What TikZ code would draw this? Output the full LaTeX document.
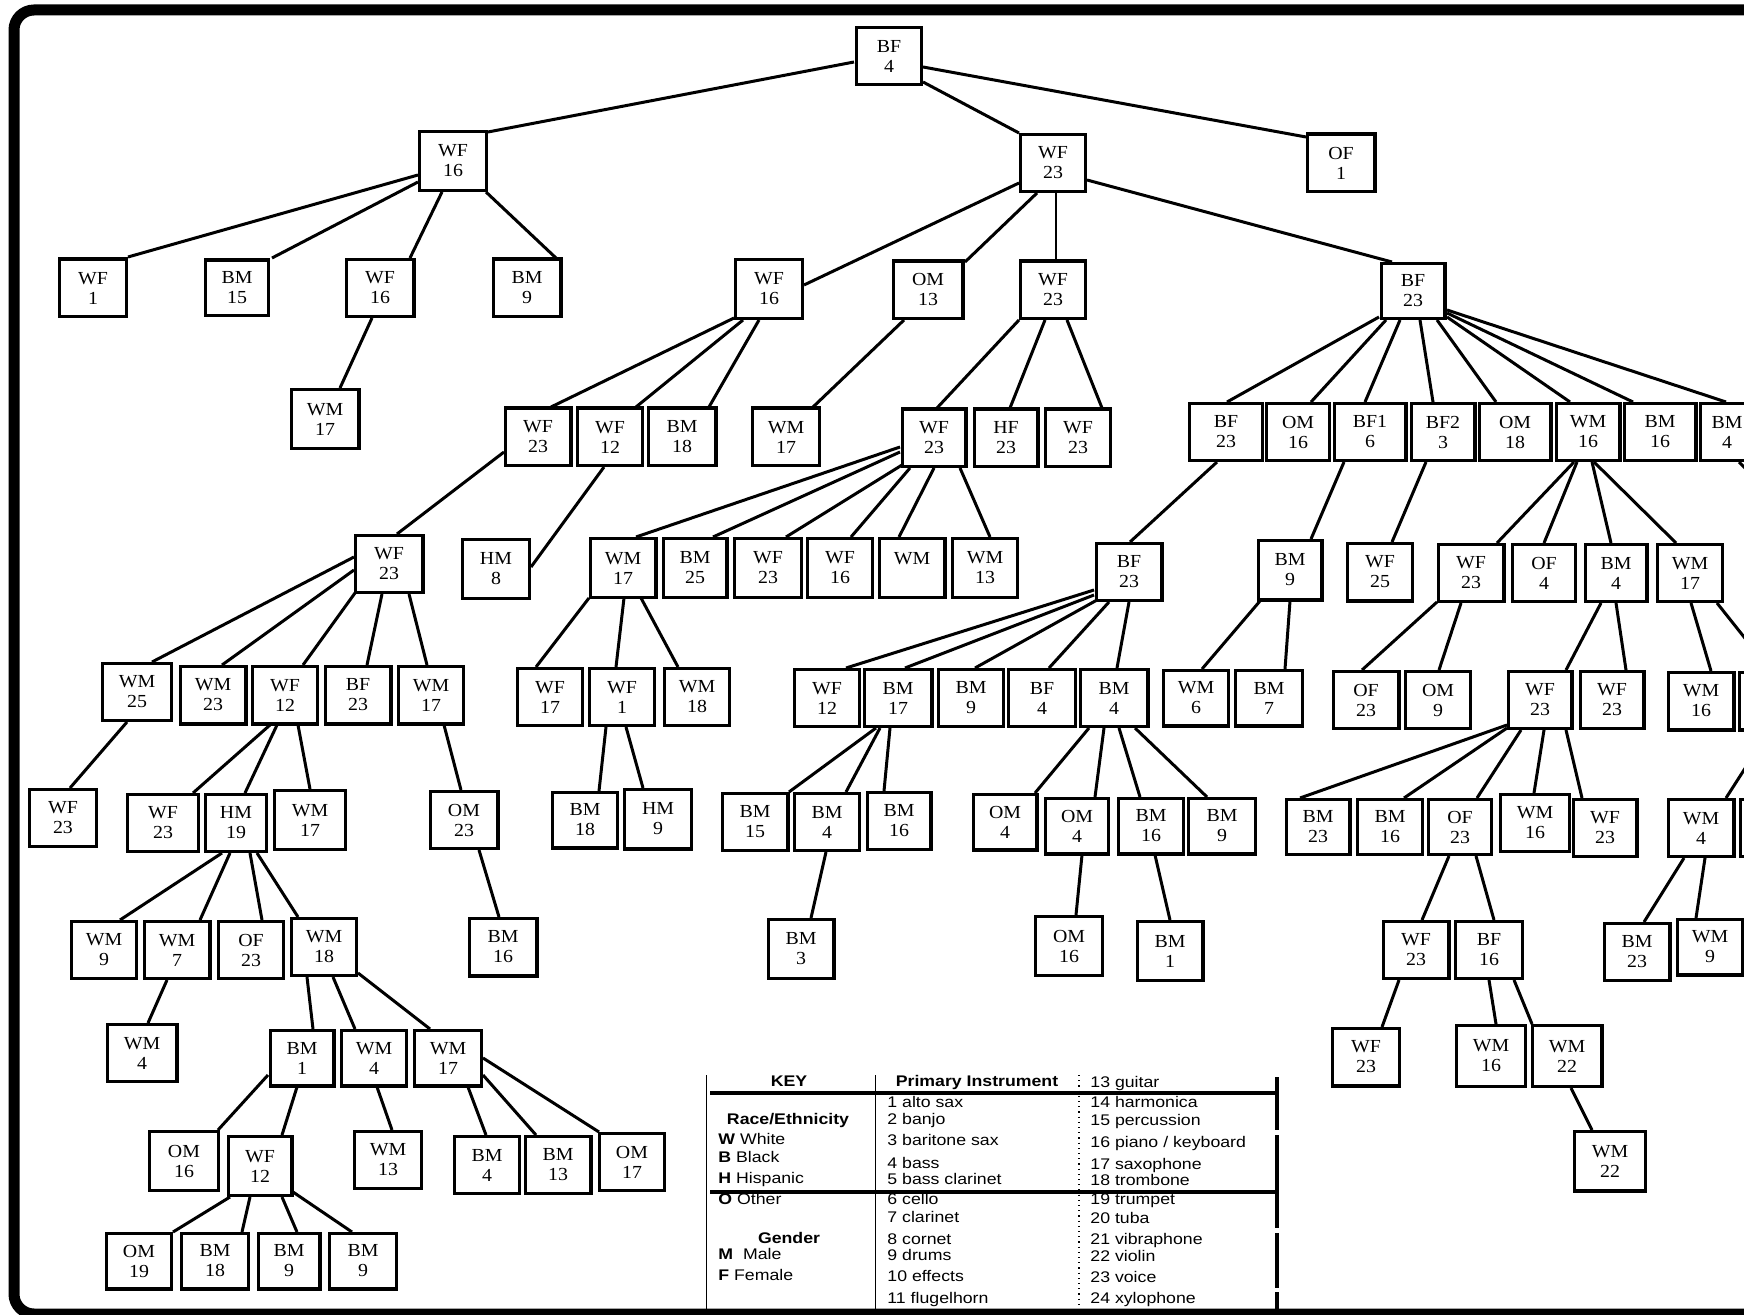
\documentclass[tikz,border=0pt]{standalone}
\usepackage{fontspec}
\newfontfamily\boxfont[FakeStretch=1.08]{Liberation Serif}
\newfontfamily\keyfont[FakeStretch=1.15]{Liberation Sans}
\usetikzlibrary{calc}
\tikzset{
 bx/.style={draw, line width=1.6pt, fill=white, inner sep=0pt, align=center, font=\boxfont\fontsize{9.2}{10}\selectfont},
 ln/.style={line width=1.5pt},
 kt/.style={anchor=base west, inner sep=0pt, font=\keyfont\fontsize{7.7}{9}\selectfont},
 kh/.style={anchor=base, inner sep=0pt, font=\keyfont\bfseries\fontsize{7.7}{9}\selectfont},
 kline/.style={line width=2.4pt},
 thinl/.style={line width=0.5pt},
}
\newcommand\bx[6]{\node[bx, minimum width={#4*0.5pt-1.6pt}, minimum height={#5*0.5pt-1.6pt}] (#1) at (#2,#3) {#6};}
\newcommand\cn[4]{\draw[ln] ($(#1)+(#2)$) -- ($(#3)+(#4)$);}
\begin{document}
\begin{tikzpicture}[x=0.5pt,y=-0.5pt]
\useasboundingbox (0,0) rectangle (1744,1315);
\clip (0,0) rectangle (1744,1315);
\fill[white] (0,0) rectangle (1744,1315);
% ---------- nodes ----------
\bx{n0}{889}{56}{68}{60}{BF\\4}
\bx{a}{453}{161}{70}{62}{WF\\16}
\bx{b}{1053}{163}{68}{60}{WF\\23}
\bx{c}{1341}{163}{71}{61}{OF\\1}
\bx{a1}{93}{288}{70}{61}{WF\\1}
\bx{a2}{237}{288}{66}{59}{BM\\15}
\bx{a3}{380}{288}{71}{60}{WF\\16}
\bx{a4}{527}{288}{71}{61}{BM\\9}
\bx{a3a}{325}{419}{71}{62}{WM\\17}
\bx{b1}{769}{289}{70}{62}{WF\\16}
\bx{b2}{928}{290}{73}{61}{OM\\13}
\bx{b3}{1053}{290}{68}{61}{WF\\23}
\bx{b4}{1413}{291}{67}{58}{BF\\23}
\bx{b1a}{538}{437}{69}{61}{WF\\23}
\bx{b1b}{610}{437}{68}{61}{WF\\12}
\bx{b1c}{682}{437}{71}{61}{BM\\18}
\bx{b2a}{786}{437}{70}{61}{WM\\17}
\bx{b3a}{934}{438}{67}{61}{WF\\23}
\bx{b3b}{1006}{438}{67}{61}{HF\\23}
\bx{b3c}{1078}{438}{68}{61}{WF\\23}
\bx{b4a}{1226}{432}{76}{60}{BF\\23}
\bx{b4b}{1298}{432}{66}{60}{OM\\16}
\bx{b4c}{1370}{432}{75}{60}{BF1\\6}
\bx{b4d}{1443}{432}{67}{60}{BF2\\3}
\bx{b4e}{1515}{432}{75}{60}{OM\\18}
\bx{b4f}{1588}{432}{67}{60}{WM\\16}
\bx{b4g}{1660}{432}{75}{60}{BM\\16}
\bx{b4h}{1727}{432}{56}{60}{BM\\4}
\bx{c1}{389}{564}{71}{60}{WF\\23}
\bx{c2}{496}{569}{70}{62}{HM\\8}
\bx{c3}{623}{568}{69}{62}{WM\\17}
\bx{c4}{695}{568}{67}{62}{BM\\25}
\bx{c5}{768}{568}{70}{62}{WF\\23}
\bx{c6}{840}{568}{68}{62}{WF\\16}
\bx{c7}{912}{568}{69}{62}{WM\\\phantom{1}}
\bx{c8}{985}{568}{68}{62}{WM\\13}
\bx{c9}{1129}{572}{69}{60}{BF\\23}
\bx{c10}{1290}{570}{67}{63}{BM\\9}
\bx{c11}{1380}{572}{68}{61}{WF\\25}
\bx{c12}{1471}{573}{69}{60}{WF\\23}
\bx{c13}{1544}{573}{66}{60}{OF\\4}
\bx{c14}{1616}{573}{65}{60}{BM\\4}
\bx{c15}{1690}{573}{68}{60}{WM\\17}
\bx{c16}{1701}{701}{69}{61}{WM\\16}
\bx{x1}{1773}{701}{70}{61}{}
\bx{c17}{1701}{828}{69}{60}{WM\\4}
\bx{x2}{1774}{828}{70}{60}{}
\bx{c18}{1637}{952}{69}{60}{BM\\23}
\bx{c19}{1710}{947}{68}{59}{WM\\9}
\bx{d1}{137}{692}{72}{60}{WM\\25}
\bx{d2}{213}{695}{69}{61}{WM\\23}
\bx{d3}{285}{695}{68}{61}{WF\\12}
\bx{d4}{358}{695}{69}{61}{BF\\23}
\bx{d5}{431}{695}{68}{61}{WM\\17}
\bx{e1}{63}{818}{70}{60}{WF\\23}
\bx{e2}{163}{823}{74}{60}{WF\\23}
\bx{e3}{236}{823}{64}{60}{HM\\19}
\bx{e4}{310}{820}{74}{62}{WM\\17}
\bx{e5}{464}{820}{71}{60}{OM\\23}
\bx{ff}{503}{947}{71}{61}{BM\\16}
\bx{g1}{550}{697}{68}{60}{WF\\17}
\bx{g2}{622}{697}{68}{60}{WF\\1}
\bx{g3}{697}{697}{68}{60}{WM\\18}
\bx{h1}{585}{820}{68}{59}{BM\\18}
\bx{h2}{658}{819}{70}{63}{HM\\9}
\bx{d10}{827}{698}{68}{60}{WF\\12}
\bx{d11}{898}{698}{71}{60}{BM\\17}
\bx{d12}{971}{698}{68}{60}{BM\\9}
\bx{d13}{1042}{698}{70}{60}{BF\\4}
\bx{d14}{1114}{698}{71}{60}{BM\\4}
\bx{d15}{1196}{698}{68}{59}{WM\\6}
\bx{d16}{1269}{698}{70}{59}{BM\\7}
\bx{d6}{1366}{700}{69}{60}{OF\\23}
\bx{d7}{1438}{700}{68}{60}{OM\\9}
\bx{d8}{1540}{700}{67}{60}{WF\\23}
\bx{d9}{1612}{700}{67}{60}{WF\\23}
\bx{e11}{755}{822}{69}{60}{BM\\15}
\bx{e12}{827}{822}{68}{60}{BM\\4}
\bx{e13}{899}{821}{67}{60}{BM\\16}
\bx{e14}{1005}{822}{67}{59}{OM\\4}
\bx{e15}{1077}{826}{66}{59}{OM\\4}
\bx{e16}{1151}{826}{68}{59}{BM\\16}
\bx{e17}{1222}{826}{70}{59}{BM\\9}
\bx{e6}{1318}{827}{67}{58}{BM\\23}
\bx{e7}{1390}{827}{68}{58}{BM\\16}
\bx{e8}{1460}{827}{66}{58}{OF\\23}
\bx{e9}{1535}{823}{72}{60}{WM\\16}
\bx{e10}{1605}{828}{67}{60}{WF\\23}
\bx{f3}{801}{949}{69}{62}{BM\\3}
\bx{f4}{1069}{946}{70}{62}{OM\\16}
\bx{f5}{1170}{951}{69}{62}{BM\\1}
\bx{f1}{1416}{950}{69}{60}{WF\\23}
\bx{f2}{1489}{950}{70}{60}{BF\\16}
\bx{f6}{104}{950}{68}{60}{WM\\9}
\bx{f7}{177}{950}{69}{60}{WM\\7}
\bx{f8}{251}{950}{68}{60}{OF\\23}
\bx{f9}{324}{947}{68}{60}{WM\\18}
\bx{g4}{1366}{1057}{70}{61}{WF\\23}
\bx{g5}{1491}{1056}{72}{64}{WM\\16}
\bx{g6}{1567}{1056}{73}{64}{WM\\22}
\bx{g7}{1610}{1161}{74}{63}{WM\\22}
\bx{g8}{142}{1053}{73}{60}{WM\\4}
\bx{g9}{302}{1058}{67}{59}{BM\\1}
\bx{g10}{374}{1058}{68}{59}{WM\\4}
\bx{g11}{448}{1058}{70}{59}{WM\\17}
\bx{h3}{184}{1161}{72}{62}{OM\\16}
\bx{h4}{260}{1166}{67}{62}{WF\\12}
\bx{h5}{388}{1160}{70}{60}{WM\\13}
\bx{h6}{487}{1165}{68}{60}{BM\\4}
\bx{h7}{558}{1165}{69}{60}{BM\\13}
\bx{h8}{632}{1162}{68}{60}{OM\\17}
\bx{i1}{139}{1261}{68}{59}{OM\\19}
\bx{i2}{215}{1261}{70}{59}{BM\\18}
\bx{i3}{289}{1261}{65}{59}{BM\\9}
\bx{i4}{363}{1261}{70}{59}{BM\\9}
\coordinate (offr) at (1800,523);
% ---------- connectors ----------
\cn{n0}{-35,6}{a}{35,-29}
\cn{n0}{34,26}{b}{-34,-30}
\cn{n0}{34,11}{c}{-35,-26}
\cn{a}{-35,14}{a1}{35,-31}
\cn{a}{-35,21}{a2}{35,-30}
\cn{a}{-11,31}{a3}{30,-30}
\cn{a}{33,31}{a4}{29,-30}
\cn{a3}{-8,30}{a3a}{15,-31}
\cn{b}{-34,20}{b1}{35,-4}
\cn{b}{-16,30}{b2}{37,-28}
\draw[line width=1pt] ($(b)+(3,30)$) -- ($(b3)+(3,-30)$);
\cn{b}{34,17}{b4}{-21,-29}
\cn{b1}{-35,29}{b1a}{13,-30}
\cn{b1}{-26,31}{b1b}{26,-30}
\cn{b1}{-10,31}{b1c}{27,-30}
\cn{b2}{-24,30}{b2a}{27,-30}
\cn{b3}{-34,30}{b3a}{3,-30}
\cn{b3}{-8,30}{b3b}{4,-30}
\cn{b3}{14,30}{b3c}{24,-30}
\cn{b4}{-34,26}{b4a}{1,-30}
\cn{b4}{-27,29}{b4b}{13,-30}
\cn{b4}{-13,29}{b4c}{-5,-30}
\cn{b4}{7,29}{b4d}{-10,-30}
\cn{b4}{24,29}{b4e}{-19,-30}
\cn{b4}{34,26}{b4f}{-18,-30}
\cn{b4}{34,22}{b4g}{-27,-30}
\cn{b4}{34,19}{b4h}{-1,-30}
\cn{b1a}{-34,15}{c1}{8,-30}
\cn{b1b}{-6,30}{c2}{35,-2}
\cn{b3a}{-34,9}{c3}{13,-31}
\cn{b3a}{-34,14}{c4}{18,-31}
\cn{b3a}{-32,27}{c5}{18,-31}
\cn{b3a}{-24,30}{c6}{11,-31}
\cn{b3a}{0,30}{c7}{-13,-31}
\cn{b3a}{26,30}{c8}{5,-31}
\cn{b4a}{-9,30}{c9}{1,-30}
\cn{b4c}{-26,30}{c10}{21,-31}
\cn{b4d}{-17,30}{c11}{12,-30}
\cn{b4f}{-14,30}{c12}{26,-30}
\cn{b4f}{-11,30}{c13}{0,-30}
\cn{b4f}{4,30}{c14}{-5,-30}
\cn{b4f}{6,30}{c15}{-14,-30}
\draw[ln] ($(b4h)+(12,30)$) -- (offr);
\cn{c15}{27,30}{x1}{-2,-30}
\cn{c15}{1,30}{c16}{10,-30}
\cn{x1}{-4,30}{c17}{25,-30}
\cn{c17}{-17,30}{c18}{7,-30}
\cn{c17}{4,30}{c19}{-14,-29}
\cn{c12}{-34,29}{d6}{-4,-30}
\cn{c12}{-10,30}{d7}{1,-30}
\cn{c14}{-15,30}{d8}{26,-30}
\cn{c14}{0,30}{d9}{14,-30}
\cn{d8}{-33,25}{e6}{-18,-29}
\cn{d8}{-33,28}{e7}{14,-29}
\cn{d8}{-19,30}{e8}{17,-29}
\cn{d8}{4,30}{e9}{-1,-30}
\cn{d8}{26,30}{e10}{-23,-30}
\cn{e8}{-11,29}{f1}{6,-30}
\cn{e8}{16,29}{f2}{5,-30}
\cn{f1}{-17,30}{g4}{16,-30}
\cn{f2}{0,30}{g5}{5,-32}
\cn{f2}{25,30}{g6}{-35,-32}
\cn{g6}{4,32}{g7}{-18,-31}
\cn{c1}{-35,-7}{d1}{15,-30}
\cn{c1}{-35,6}{d2}{9,-30}
\cn{c1}{-34,29}{d3}{18,-30}
\cn{c1}{-7,30}{d4}{9,-30}
\cn{c1}{20,30}{d5}{-4,-30}
\cn{d1}{-10,30}{e1}{7,-30}
\cn{d3}{-15,30}{e2}{30,-30}
\cn{d3}{-8,30}{e3}{9,-30}
\cn{d3}{13,30}{e4}{0,-31}
\cn{d5}{13,30}{e5}{-3,-30}
\cn{e5}{15,30}{ff}{-4,-30}
\cn{c3}{-34,30}{g1}{-14,-30}
\cn{c3}{1,30}{g2}{-6,-30}
\cn{c3}{18,30}{g3}{-19,-30}
\cn{g2}{-16,30}{h1}{14,-29}
\cn{g2}{4,30}{h2}{-15,-31}
\cn{c9}{-35,18}{d10}{19,-30}
\cn{c9}{-35,23}{d11}{7,-30}
\cn{c9}{-32,28}{d12}{4,-30}
\cn{c9}{-20,30}{d13}{7,-30}
\cn{c9}{0,30}{d14}{3,-30}
\cn{d11}{-22,30}{e11}{34,-30}
\cn{d11}{-18,30}{e12}{19,-30}
\cn{d11}{-8,30}{e13}{-15,-30}
\cn{e12}{-1,30}{f3}{10,-31}
\cn{d14}{-25,30}{e14}{30,-29}
\cn{d14}{-10,30}{e15}{18,-29}
\cn{d14}{5,30}{e16}{-11,-29}
\cn{d14}{21,30}{e17}{-15,-29}
\cn{e15}{5,29}{f4}{7,-31}
\cn{e16}{4,29}{f5}{0,-31}
\cn{c10}{-30,31}{d15}{6,-29}
\cn{c10}{0,31}{d16}{16,-29}
\cn{e3}{-14,30}{f6}{16,-30}
\cn{e3}{-6,30}{f7}{23,-30}
\cn{e3}{14,30}{f8}{11,-30}
\cn{e3}{21,30}{f9}{-26,-30}
\cn{f7}{-10,30}{g8}{6,-30}
\cn{f9}{-17,30}{g9}{11,-29}
\cn{f9}{9,30}{g10}{-19,-29}
\cn{f9}{34,26}{g11}{-18,-29}
\cn{g9}{-34,17}{h3}{34,-31}
\cn{g9}{-5,29}{h4}{22,-31}
\cn{g10}{3,29}{h5}{4,-30}
\cn{g11}{20,29}{h6}{-1,-30}
\cn{g11}{35,17}{h7}{-22,-30}
\cn{g11}{35,0}{h8}{-33,-30}
\cn{h4}{-30,31}{i1}{34,-29}
\cn{h4}{-10,31}{i2}{27,-29}
\cn{h4}{22,31}{i3}{8,-29}
\cn{h4}{33,26}{i4}{-11,-29}
% ---------- key ----------
\node[kh] (kKey) at (789,1086) {KEY};
\node[kh] (kPI) at (977,1086) {Primary Instrument};
\node[kh] (kRE) at (788,1124) {Race/Ethnicity};
\node[kt] (kW) at (718,1144) {\textbf{W} White};
\node[kt] (kB) at (718,1162) {\textbf{B} Black};
\node[kt] (kH) at (718,1183) {\textbf{H} Hispanic};
\node[kt] (kO) at (718,1204) {\textbf{O} Other};
\node[kh] (kG) at (789,1243) {Gender};
\node[kt] (kM) at (718,1259) {\textbf{M}\ \ Male};
\node[kt] (kF) at (718,1280) {\textbf{F} Female};
\node[kt] (i01) at (887,1107) {1 alto sax};
\node[kt] (i02) at (887,1124) {2 banjo};
\node[kt] (i03) at (887,1145) {3 baritone sax};
\node[kt] (i04) at (887,1168) {4 bass};
\node[kt] (i05) at (887,1184) {5 bass clarinet};
\node[kt] (i06) at (887,1204) {6 cello};
\node[kt] (i07) at (887,1222) {7 clarinet};
\node[kt] (i08) at (887,1244) {8 cornet};
\node[kt] (i09) at (887,1260) {9 drums};
\node[kt] (i10) at (887,1281) {10 effects};
\node[kt] (i11) at (887,1303) {11 flugelhorn};
\node[kt] (i13) at (1090,1087) {13 guitar};
\node[kt] (i14) at (1090,1107) {14 harmonica};
\node[kt] (i15) at (1090,1125) {15 percussion};
\node[kt] (i16) at (1090,1147) {16 piano / keyboard};
\node[kt] (i17) at (1090,1169) {17 saxophone};
\node[kt] (i18) at (1090,1185) {18 trombone};
\node[kt] (i19) at (1090,1204) {19 trumpet};
\node[kt] (i20) at (1090,1223) {20 tuba};
\node[kt] (i21) at (1090,1244) {21 vibraphone};
\node[kt] (i22) at (1090,1261) {22 violin};
\node[kt] (i23) at (1090,1282) {23 voice};
\node[kt] (i24) at (1090,1303) {24 xylophone};
\draw[thinl] (706,1075) -- (706,1320);
\draw[thinl] (875,1075) -- (875,1320);
\draw[line width=0.6pt, dotted] (1079,1075) -- (1079,1320);
\draw[kline] (710,1093) -- (1279,1093);
\draw[kline] (710,1192) -- (1279,1192);
\draw[line width=2pt] (1277,1077) -- (1277,1130) (1277,1135) -- (1277,1228) (1277,1233) -- (1277,1288) (1277,1292) -- (1277,1320);
% ---------- frame ----------
\draw[line width=5.5pt, rounded corners=10pt] (1800,10) -- (14,10) -- (14,1314) -- (1800,1314);
\end{tikzpicture}
\end{document}
